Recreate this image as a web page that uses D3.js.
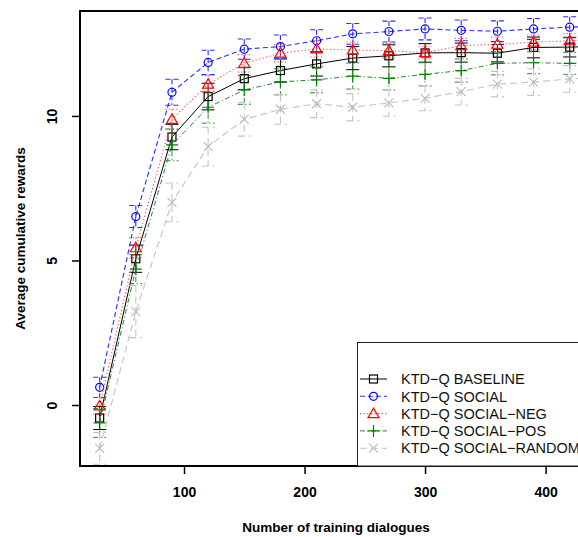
<!DOCTYPE html>
<html>
<head>
<meta charset="utf-8">
<script src="https://cdn.jsdelivr.net/npm/d3@7"></script>
<style>
  html, body { margin: 0; padding: 0; background: #fff; }
  svg { display: block; }
  text { font-family: "Liberation Sans", Arial, Helvetica, sans-serif; }
</style>
</head>
<body>
<svg id="chart" width="578" height="537"></svg>
<script>
// ---- data ----
const steps = [30, 60, 90, 120, 150, 180, 210, 240, 270, 300, 330, 360, 390, 420, 450];
const baseline    = [-0.45, 5.06, 9.27, 10.67, 11.29, 11.57, 11.80, 12.00, 12.08, 12.18, 12.19, 12.17, 12.37, 12.38, 12.42];
const baselineErr = [0.40, 0.47, 0.44, 0.46, 0.38, 0.40, 0.42, 0.40, 0.38, 0.32, 0.33, 0.30, 0.36, 0.34, 0.34];
const social      = [0.61, 6.52, 10.82, 11.85, 12.31, 12.40, 12.60, 12.84, 12.92, 13.01, 12.96, 12.93, 13.01, 13.07, 13.12];
const socialErr   = [0.35, 0.38, 0.45, 0.42, 0.35, 0.40, 0.38, 0.36, 0.36, 0.38, 0.36, 0.36, 0.36, 0.36, 0.36];
const socialNeg   = [-0.03, 5.44, 9.88, 11.10, 11.82, 12.17, 12.32, 12.28, 12.26, 12.19, 12.43, 12.48, 12.55, 12.60, 12.66];
const socialNegErr= [0.30, 0.35, 0.35, 0.30, 0.30, 0.30, 0.28, 0.28, 0.25, 0.22, 0.25, 0.25, 0.25, 0.25, 0.25];
const socialPos   = [-0.62, 4.70, 9.00, 10.30, 10.90, 11.18, 11.25, 11.38, 11.30, 11.44, 11.57, 11.82, 11.84, 11.82, 11.86];
const socialPosErr= [0.50, 0.50, 0.55, 0.55, 0.50, 0.45, 0.45, 0.45, 0.40, 0.40, 0.40, 0.40, 0.38, 0.38, 0.38];
const socialRnd   = [-1.50, 3.23, 7.01, 8.94, 9.88, 10.23, 10.42, 10.30, 10.45, 10.61, 10.84, 11.10, 11.17, 11.28, 11.35];
const socialRndErr= [0.55, 0.90, 0.67, 0.67, 0.58, 0.52, 0.48, 0.47, 0.46, 0.43, 0.46, 0.44, 0.46, 0.46, 0.46];
const seriesNames = ["KTD\u2212Q BASELINE", "KTD\u2212Q SOCIAL", "KTD\u2212Q SOCIAL\u2212NEG", "KTD\u2212Q SOCIAL\u2212POS", "KTD\u2212Q SOCIAL\u2212RANDOM"];
const xTicks = [100, 200, 300, 400];
const yTicks = [0, 5, 10];
const xLabel = "Number of training dialogues";
const yLabel = "Average cumulative rewards";

// ---- styles ----
const styles = [
  { color: "#000000", line: "#000000", dash: null,        width: 1,   marker: "square" },
  { color: "#0000ff", line: "#2a2aff", dash: "5,3",       width: 1.1, marker: "circle" },
  { color: "#ff0000", line: "#ff4a4a", dash: "1.2,2.4",   width: 1.1, marker: "triangle" },
  { color: "#008000", line: "#2a8a2a", dash: "5,2.5,1.2,2.5", width: 1, marker: "plus" },
  { color: "#bdbdbd", line: "#c4c4c4", dash: "7,4",       width: 1.1, marker: "cross" }
];
const series = [
  { name: seriesNames[0], values: baseline,  err: baselineErr },
  { name: seriesNames[1], values: social,    err: socialErr },
  { name: seriesNames[2], values: socialNeg, err: socialNegErr },
  { name: seriesNames[3], values: socialPos, err: socialPosErr },
  { name: seriesNames[4], values: socialRnd, err: socialRndErr }
].map((s, i) => Object.assign(s, styles[i]));

const svg = d3.select("#chart");
const L = 80, R = 592, T = 11, B = 466;
const x = d3.scaleLinear().domain([13.7, 438.5]).range([L, R]);
const y = d3.scaleLinear().domain([-2.11, 13.63]).range([B, T]);

svg.append("defs").append("clipPath").attr("id", "plotclip")
  .append("rect").attr("x", L).attr("y", T).attr("width", R - L).attr("height", B - T);

const plot = svg.append("g").attr("clip-path", "url(#plotclip)");

function drawMarker(g, type, cx, cy, color) {
  const sw = 1.2;
  if (type === "square") {
    g.append("rect").attr("x", cx - 4).attr("y", cy - 4).attr("width", 8).attr("height", 8)
      .attr("fill", "none").attr("stroke", color).attr("stroke-width", sw);
  } else if (type === "circle") {
    g.append("circle").attr("cx", cx).attr("cy", cy).attr("r", 4)
      .attr("fill", "none").attr("stroke", color).attr("stroke-width", sw);
  } else if (type === "triangle") {
    g.append("path").attr("d", `M${cx},${cy - 5.5}L${cx + 5.5},${cy + 4}L${cx - 5.5},${cy + 4}Z`)
      .attr("fill", "none").attr("stroke", color).attr("stroke-width", sw);
  } else if (type === "plus") {
    g.append("path").attr("d", `M${cx - 6},${cy}H${cx + 6}M${cx},${cy - 6}V${cy + 6}`)
      .attr("fill", "none").attr("stroke", color).attr("stroke-width", sw);
  } else if (type === "cross") {
    g.append("path").attr("d", `M${cx - 4.5},${cy - 4.5}L${cx + 4.5},${cy + 4.5}M${cx - 4.5},${cy + 4.5}L${cx + 4.5},${cy - 4.5}`)
      .attr("fill", "none").attr("stroke", color).attr("stroke-width", sw);
  }
}

const lineGen = d3.line().x((d, i) => x(steps[i])).y(d => y(d));
const capW = 6.5;

series.forEach(s => {
  const g = plot.append("g");
  // error bars
  s.values.forEach((v, i) => {
    const cx = x(steps[i]);
    const y1 = y(v + s.err[i]), y2 = y(v - s.err[i]);
    g.append("path")
      .attr("d", `M${cx},${y1}V${y2}M${cx - capW},${y1}H${cx + capW}M${cx - capW},${y2}H${cx + capW}`)
      .attr("fill", "none").attr("stroke", s.line).attr("stroke-width", s.width)
      .attr("stroke-dasharray", s.dash);
  });
  // line
  g.append("path").datum(s.values).attr("d", lineGen)
    .attr("fill", "none").attr("stroke", s.line).attr("stroke-width", s.width)
    .attr("stroke-dasharray", s.dash);
  // markers
  s.values.forEach((v, i) => drawMarker(g, s.marker, x(steps[i]), y(v), s.color));
});

// ---- axes ----
const xAxis = svg.append("g").attr("transform", `translate(0,${B})`)
  .call(d3.axisBottom(x).tickValues(xTicks).tickSize(8).tickSizeOuter(0).tickFormat(d3.format("d")));
xAxis.select(".domain").remove();
xAxis.selectAll(".tick line").attr("stroke", "#000").attr("stroke-width", 1.5);
xAxis.selectAll(".tick text").attr("y", 21).attr("dy", "0.71em")
  .style("font-size", "14px").style("font-weight", "bold").attr("fill", "#000");

const yAxis = svg.append("g").attr("transform", `translate(${L},0)`)
  .call(d3.axisLeft(y).tickValues(yTicks).tickSize(8).tickSizeOuter(0).tickFormat(d3.format("d")));
yAxis.select(".domain").remove();
yAxis.selectAll(".tick line").attr("stroke", "#000").attr("stroke-width", 1.5);
yAxis.selectAll(".tick text").attr("transform", "rotate(-90)")
  .attr("x", 0).attr("y", -27.5).attr("dy", "0.35em").attr("text-anchor", "middle")
  .style("font-size", "14px").style("font-weight", "bold").attr("fill", "#000");

// frame lines (left, top, bottom)
svg.append("path").attr("d", `M${R},${T}H${L}V${B}H${R}`)
  .attr("fill", "none").attr("stroke", "#000").attr("stroke-width", 2);

// axis labels
svg.append("text").attr("x", (L + R) / 2).attr("y", 532).attr("text-anchor", "middle")
  .style("font-size", "13.5px").style("font-weight", "bold").text(xLabel);
svg.append("text").attr("transform", `translate(25,${(T + B) / 2}) rotate(-90)`)
  .attr("text-anchor", "middle")
  .style("font-size", "13.5px").style("font-weight", "bold").text(yLabel);

// ---- legend ----
const lg = svg.append("g");
lg.append("rect").attr("x", 357.5).attr("y", 342.5).attr("width", 240).attr("height", B - 342.5)
  .attr("fill", "#fff").attr("stroke", "#222").attr("stroke-width", 1);
series.forEach((s, i) => {
  const cy = 379 + i * 17.3;
  lg.append("line").attr("x1", 360).attr("x2", 387).attr("y1", cy).attr("y2", cy)
    .attr("stroke", s.line).attr("stroke-width", s.width).attr("stroke-dasharray", s.dash);
  drawMarker(lg, s.marker, 373.5, cy, s.color);
  lg.append("text").attr("x", 401).attr("y", cy).attr("dy", "0.36em")
    .style("font-size", "14.5px").attr("fill", "#111").text(s.name);
});
</script>
</body>
</html>
